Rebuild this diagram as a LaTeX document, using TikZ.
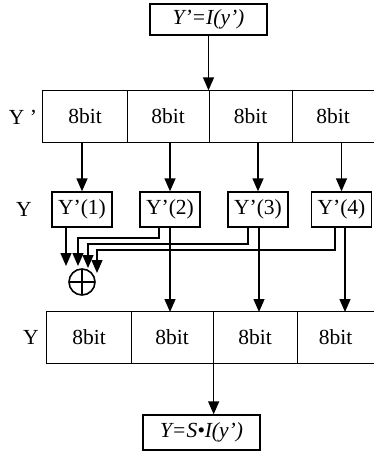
\documentclass[tikz,border=0pt]{standalone}
\usepackage{fontspec}
\setmainfont{Liberation Serif}
\usetikzlibrary{arrows.meta}
\begin{document}
\begin{tikzpicture}[x=1pt,y=-1pt, line width=1.3pt,
 arr/.style={-{Triangle[width=11pt,length=13pt]}},
 txt/.style={font=\fontsize{21.5}{24}\selectfont, inner sep=0pt},
 cell/.style={txt, minimum height=51pt},
 ybox/.style={txt, draw, minimum width=60pt, minimum height=35pt},
 fbox/.style={txt, draw, minimum width=117pt, minimum height=31pt},
 lbl/.style={txt}]
\useasboundingbox (0,0) rectangle (374,453);
% top box
\node[fbox] (top) at (208.5,19.5) {\textit{Y’=I(y’)}};
% row 1
\node[cell, minimum width=84pt] (a1) at (85,116.5) {8bit};
\node[cell, minimum width=82pt] (a2) at (168,116.5) {8bit};
\node[cell, minimum width=83pt] (a3) at (250.5,116.5) {8bit};
\node[cell, minimum width=82pt] (a4) at (333,116.5) {8bit};
\node[lbl] (l1) at (23,117) {Y ’};
\draw (a4.north east) -- (a1.north west) -- (a1.south west) -- (a4.south east);
\draw (a1.north east) -- (a1.south east);
\draw (a2.north east) -- (a2.south east);
\draw (a3.north east) -- (a3.south east);
\draw[arr] (top.south) -- (top.south |- a1.north);
% Y'(i) boxes
\node[lbl] (l2) at (24,209) {Y};
\node[ybox] (b1) at (82,209.5) {Y’(1)};
\node[ybox] (b2) at (170,209.5) {Y’(2)};
\node[ybox] (b3) at (258,209.5) {Y’(3)};
\node[ybox] (b4) at (341.5,209.5) {Y’(4)};
\foreach \i in {1,...,4} {\draw[arr] (b\i.north |- a1.south) -- (b\i.north);}
% xor
\node[draw, circle, line width=1.6pt, minimum size=26pt, inner sep=0pt] (x) at (82,282) {};
\draw[line width=1.6pt] ([yshift=-2pt]x.north) -- ([yshift=2pt]x.south);
\draw[line width=1.6pt] ([xshift=2pt]x.west) -- ([xshift=-2pt]x.east);
\coordinate (t1) at (66,266);
\coordinate (t2) at (78,266);
\coordinate (t3) at (88,268);
\coordinate (t4) at (97,273);
\draw[arr] (b1.south -| t1) -- (t1);
\draw[arr] ([xshift=-11pt]b2.south) |- (78,238) -- (t2);
\draw[arr] ([xshift=-10pt]b3.south) |- (88,244) -- (t3);
\draw[arr] ([xshift=-6.5pt]b4.south) |- (97,250) -- (t4);
% row 2
\node[cell, minimum width=84pt] (c1) at (89,337.5) {8bit};
\node[cell, minimum width=82pt] (c2) at (172,337.5) {8bit};
\node[cell, minimum width=84pt] (c3) at (255,337.5) {8bit};
\node[cell, minimum width=77pt] (c4) at (335.5,337.5) {8bit};
\node[lbl] (l3) at (31,337) {Y};
\draw (c4.north east) -- (c1.north west) -- (c1.south west) -- (c4.south east);
\draw (c1.north east) -- (c1.south east);
\draw (c2.north east) -- (c2.south east);
\draw (c3.north east) -- (c3.south east);
\draw[arr] (b2.south -| 170,0) -- (170,312);
\draw[arr] (b3.south -| 259,0) -- (259,312);
\draw[arr] (b4.south -| 345,0) -- (345,312);
% final box
\node[fbox, minimum height=35pt] (fin) at (201.5,432.5) {\textit{Y=S•I(y’)}};
\draw[arr] (c2.south east) -- (c2.south east |- fin.north);
\end{tikzpicture}
\end{document}
